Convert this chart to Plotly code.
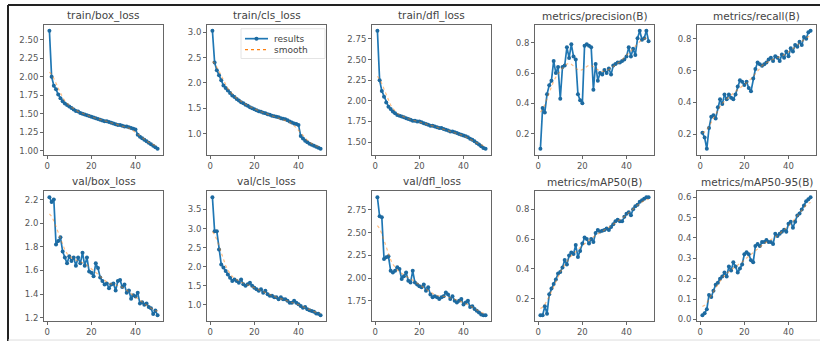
import numpy as np
import plotly.graph_objects as go

epochs = list(range(1, 51))

train_box_loss = [2.62, 2.00, 1.88, 1.83, 1.76, 1.71, 1.67, 1.64, 1.62, 1.60,
                  1.58, 1.56, 1.54, 1.53, 1.51, 1.50, 1.49, 1.48, 1.47, 1.46,
                  1.45, 1.44, 1.43, 1.42, 1.41, 1.40, 1.40, 1.39, 1.38, 1.37,
                  1.36, 1.35, 1.35, 1.34, 1.33, 1.33, 1.32, 1.31, 1.30, 1.29,
                  1.22, 1.19, 1.17, 1.15, 1.13, 1.11, 1.09, 1.07, 1.05, 1.03]
train_cls_loss = [3.03, 2.40, 2.25, 2.15, 2.05, 1.95, 1.90, 1.85, 1.80, 1.75,
                  1.72, 1.68, 1.65, 1.62, 1.60, 1.57, 1.55, 1.52, 1.50, 1.48,
                  1.46, 1.44, 1.43, 1.41, 1.40, 1.38, 1.37, 1.35, 1.34, 1.33,
                  1.32, 1.30, 1.29, 1.28, 1.26, 1.24, 1.22, 1.20, 1.19, 1.17,
                  0.95, 0.90, 0.86, 0.83, 0.80, 0.78, 0.76, 0.74, 0.72, 0.70]
train_dfl_loss = [2.85, 2.25, 2.12, 2.05, 1.98, 1.93, 1.90, 1.87, 1.85, 1.83,
                  1.82, 1.81, 1.80, 1.79, 1.78, 1.77, 1.76, 1.76, 1.75, 1.75,
                  1.74, 1.73, 1.72, 1.71, 1.70, 1.70, 1.69, 1.68, 1.67, 1.67,
                  1.66, 1.65, 1.64, 1.63, 1.63, 1.62, 1.61, 1.60, 1.59, 1.58,
                  1.57, 1.56, 1.54, 1.53, 1.51, 1.49, 1.47, 1.45, 1.43, 1.42]
precision = [0.10, 0.37, 0.34, 0.46, 0.52, 0.55, 0.68, 0.60, 0.64, 0.43,
             0.64, 0.65, 0.77, 0.70, 0.79, 0.71, 0.69, 0.46, 0.42, 0.40,
             0.78, 0.79, 0.78, 0.77, 0.49, 0.66, 0.55, 0.60, 0.59, 0.62,
             0.60, 0.63, 0.59, 0.65, 0.66, 0.67, 0.67, 0.68, 0.69, 0.71,
             0.77, 0.71, 0.76, 0.72, 0.83, 0.88, 0.82, 0.83, 0.88, 0.81]
recall = [0.21, 0.18, 0.11, 0.24, 0.31, 0.32, 0.30, 0.37, 0.42, 0.39,
          0.45, 0.42, 0.45, 0.43, 0.42, 0.45, 0.50, 0.54, 0.53, 0.51,
          0.53, 0.49, 0.47, 0.55, 0.61, 0.65, 0.64, 0.63, 0.64, 0.65,
          0.67, 0.68, 0.66, 0.69, 0.68, 0.66, 0.70, 0.68, 0.72, 0.69,
          0.74, 0.72, 0.76, 0.75, 0.78, 0.76, 0.81, 0.80, 0.84, 0.85]
val_box_loss = [2.22, 2.18, 2.20, 1.82, 1.85, 1.88, 1.76, 1.71, 1.66, 1.72,
                1.68, 1.71, 1.64, 1.71, 1.66, 1.75, 1.64, 1.71, 1.59, 1.58,
                1.55, 1.66, 1.62, 1.54, 1.51, 1.48, 1.49, 1.45, 1.48, 1.49,
                1.43, 1.51, 1.52, 1.46, 1.48, 1.41, 1.43, 1.36, 1.39, 1.38,
                1.41, 1.32, 1.33, 1.31, 1.32, 1.29, 1.28, 1.23, 1.26, 1.22]
val_cls_loss = [3.82, 2.93, 2.93, 2.45, 2.06, 1.98, 1.89, 1.80, 1.71, 1.63,
                1.67, 1.63, 1.58, 1.67, 1.54, 1.50, 1.54, 1.58, 1.50, 1.45,
                1.41, 1.37, 1.41, 1.32, 1.37, 1.28, 1.24, 1.24, 1.20, 1.20,
                1.15, 1.20, 1.15, 1.15, 1.11, 1.06, 1.06, 1.11, 1.06, 1.02,
                0.97, 0.93, 0.95, 0.89, 0.86, 0.84, 0.82, 0.78, 0.77, 0.73]
val_dfl_loss = [2.89, 2.68, 2.67, 2.21, 2.23, 2.24, 2.08, 2.06, 2.08, 2.12,
                2.10, 1.99, 2.02, 2.06, 1.97, 1.95, 2.08, 1.95, 1.93, 1.91,
                1.90, 1.93, 1.86, 1.90, 1.82, 1.79, 1.80, 1.79, 1.77, 1.79,
                1.80, 1.84, 1.82, 1.77, 1.80, 1.75, 1.73, 1.75, 1.77, 1.71,
                1.73, 1.75, 1.68, 1.69, 1.66, 1.64, 1.62, 1.60, 1.59, 1.59]
map50 = [0.09, 0.09, 0.15, 0.10, 0.23, 0.27, 0.30, 0.33, 0.37, 0.38,
         0.41, 0.46, 0.43, 0.49, 0.51, 0.50, 0.56, 0.48, 0.52, 0.57,
         0.61, 0.60, 0.57, 0.60, 0.58, 0.64, 0.66, 0.65, 0.655, 0.66,
         0.67, 0.66, 0.68, 0.70, 0.72, 0.73, 0.72, 0.72, 0.75, 0.77,
         0.78, 0.76, 0.80, 0.82, 0.83, 0.85, 0.86, 0.87, 0.88, 0.88]
map50_95 = [0.02, 0.03, 0.05, 0.12, 0.11, 0.14, 0.17, 0.18, 0.20, 0.21,
            0.23, 0.21, 0.26, 0.24, 0.28, 0.26, 0.23, 0.25, 0.27, 0.32,
            0.33, 0.32, 0.29, 0.28, 0.36, 0.37, 0.36, 0.38, 0.38, 0.39,
            0.38, 0.38, 0.37, 0.42, 0.41, 0.42, 0.43, 0.44, 0.43, 0.47,
            0.48, 0.45, 0.48, 0.51, 0.52, 0.54, 0.56, 0.58, 0.59, 0.60]

titles = ["train/box_loss", "train/cls_loss", "train/dfl_loss", "metrics/precision(B)", "metrics/recall(B)",
          "val/box_loss", "val/cls_loss", "val/dfl_loss", "metrics/mAP50(B)", "metrics/mAP50-95(B)"]
series = [train_box_loss, train_cls_loss, train_dfl_loss, precision, recall,
          val_box_loss, val_cls_loss, val_dfl_loss, map50, map50_95]
tick_steps = [0.25, 0.5, 0.25, 0.2, 0.2, 0.2, 0.5, 0.25, 0.2, 0.1]
tick_fmt = [".2f", ".1f", ".2f", ".1f", ".1f", ".1f", ".1f", ".2f", ".1f", ".1f"]
legend_labels = ["results", "smooth"]


def gaussian_smooth(y, sigma=3.0, truncate=4.0):
    y = np.asarray(y, dtype=float)
    r = int(truncate * sigma + 0.5)
    k = np.exp(-0.5 * (np.arange(-r, r + 1) / sigma) ** 2)
    k /= k.sum()
    padded = np.concatenate([y[:r][::-1], y, y[-r:][::-1]])
    return np.convolve(padded, k, mode="valid")


W, H = 820, 347
col_left = [44, 207, 372, 535, 697]
col_w = 119
row_top = [25, 193]
row_h = 131

fig = go.Figure()
BLUE = "#1f77b4"
ORANGE = "#ff7f0e"
FONT = "DejaVu Sans"

for i, (title, y) in enumerate(zip(titles, series)):
    r, c = divmod(i, 5)
    n = i + 1
    xa = "x" if n == 1 else f"x{n}"
    ya = "y" if n == 1 else f"y{n}"
    sm = gaussian_smooth(y)
    fig.add_trace(go.Scatter(x=epochs, y=y, mode="lines+markers", name=legend_labels[0],
                             line=dict(color=BLUE, width=1.7), marker=dict(color="#1d6aa0", size=4),
                             xaxis=xa, yaxis=ya, showlegend=False))
    fig.add_trace(go.Scatter(x=epochs, y=sm, mode="lines", name=legend_labels[1],
                             line=dict(color=ORANGE, width=1.2, dash="dot"), opacity=0.5,
                             xaxis=xa, yaxis=ya, showlegend=False))
    lo = min(min(y), float(sm.min()))
    hi = max(max(y), float(sm.max()))
    pad = 0.05 * (hi - lo)
    x0 = col_left[c] / W
    x1 = (col_left[c] + col_w) / W
    y1 = 1 - row_top[r] / H
    y0 = 1 - (row_top[r] + row_h) / H
    axis_common = dict(showline=True, mirror=True, linecolor="#666", linewidth=1,
                       showgrid=False, zeroline=False, ticks="outside", ticklen=3,
                       tickcolor="#666", tickfont=dict(size=8.5, color="#555", family=FONT))
    fig.layout[f"xaxis{n if n > 1 else ''}"] = dict(domain=[x0, x1], anchor=ya,
                                                     range=[-1.45, 52.45], tickvals=[0, 20, 40],
                                                     **axis_common)
    fig.layout[f"yaxis{n if n > 1 else ''}"] = dict(domain=[y0, y1], anchor=xa,
                                                     range=[lo - pad, hi + pad], dtick=tick_steps[i],
                                                     tick0=0, tickformat=tick_fmt[i], **axis_common)
    fig.add_annotation(text=title, x=(x0 + x1) / 2, y=y1, xref="paper", yref="paper",
                       xanchor="center", yanchor="bottom", yshift=1, showarrow=False,
                       font=dict(size=10.5, color="#444", family=FONT))


def px(xp):
    return xp / W


def py(yp):
    return 1 - yp / H


shapes = [
    dict(type="rect", xref="paper", yref="paper", x0=px(241), x1=px(325), y0=py(29), y1=py(59),
         line=dict(color="#e4e4e4", width=1), fillcolor="rgba(255,255,255,0.8)", layer="above"),
    dict(type="line", xref="paper", yref="paper", x0=px(245), x1=px(268), y0=py(39), y1=py(39),
         line=dict(color=BLUE, width=1.7), layer="above"),
    dict(type="circle", xref="paper", yref="paper", x0=px(254.5), x1=px(258.5), y0=py(37), y1=py(41),
         line=dict(color=BLUE, width=0), fillcolor="#1d6aa0", layer="above"),
    dict(type="line", xref="paper", yref="paper", x0=px(245), x1=px(268), y0=py(50), y1=py(50),
         line=dict(color=ORANGE, width=1.2, dash="dot"), layer="above"),
    dict(type="line", xref="paper", yref="paper", x0=px(8), x1=1, y0=py(5), y1=py(5),
         line=dict(color="#222", width=2)),
    dict(type="line", xref="paper", yref="paper", x0=px(8), x1=px(8), y0=py(5), y1=py(344),
         line=dict(color="#222", width=2)),
    dict(type="line", xref="paper", yref="paper", x0=px(8), x1=1, y0=py(343), y1=py(343),
         line=dict(color="#ddd", width=1)),
]
for lab, yy in zip(legend_labels, [39, 50]):
    fig.add_annotation(text=lab, x=px(272), y=py(yy), xref="paper", yref="paper",
                       xanchor="left", yanchor="middle", showarrow=False,
                       font=dict(size=9, color="#444", family=FONT))

fig.update_layout(
    width=W, height=H, margin=dict(l=0, r=0, t=0, b=0),
    paper_bgcolor="white", plot_bgcolor="white",
    showlegend=False,
    shapes=shapes,
)

post = (
    "var st=document.createElement('style');"
    "st.textContent='html,body{margin:0;padding:0;overflow:hidden;width:820px;height:347px;scrollbar-width:none;}"
    "::-webkit-scrollbar{display:none;width:0;height:0;}';"
    "document.head.appendChild(st);"
    "var d=document.getElementById('{plot_id}');"
    "d.style.display='block';"
    "d.parentElement.style.height='347px';d.parentElement.style.overflow='hidden';"
    "window.scrollTo(0,0);"
)
fig.write_html("out.html", config={"displayModeBar": False}, post_script=post)
